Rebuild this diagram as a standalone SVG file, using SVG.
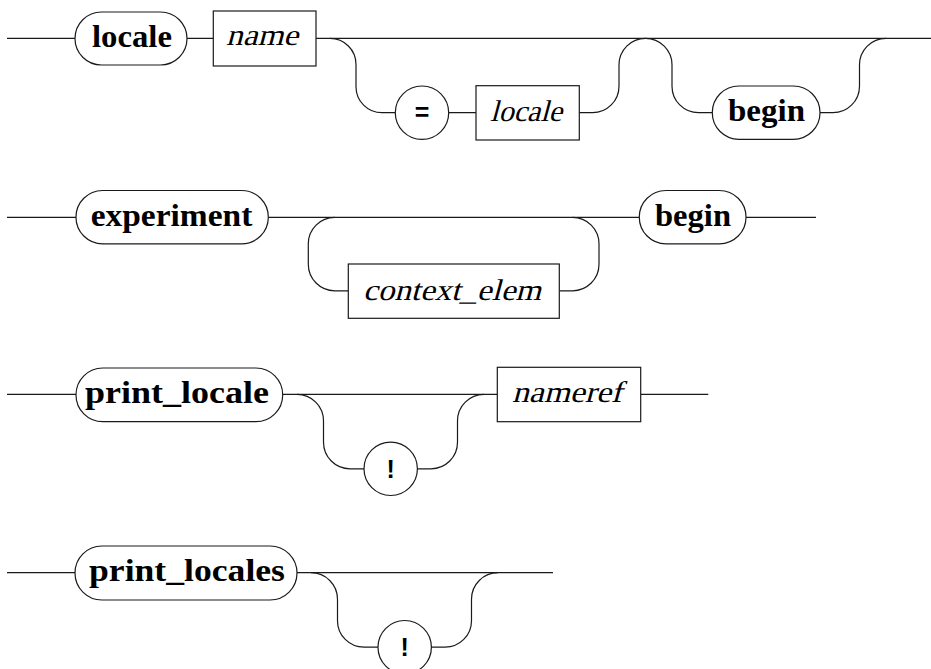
<svg xmlns="http://www.w3.org/2000/svg" width="931" height="669" viewBox="0 0 931 669">
<style>
.ln{fill:none;stroke:#1a1a1a;stroke-width:1.2}
.nd{fill:#fff;stroke:#1a1a1a;stroke-width:1.2}
.kw{font-family:"Liberation Serif",serif;font-weight:bold;font-size:31px;fill:#000;text-anchor:middle}
.nt{font-family:"Liberation Serif",serif;font-size:30px;fill:#000;text-anchor:middle}
.sy{font-family:"Liberation Sans",sans-serif;font-size:25px;font-weight:bold;fill:#000;text-anchor:middle}
</style>
<rect width="931" height="669" fill="#fff"/>
<g id="connectors" class="ln">
<path d="M7 38.4H75 M187 38.4H213 M316 38.4H931"/>
<path d="M330 38.4A26 26 0 0 1 356 64.4V86.7A26 26 0 0 0 382 112.7H395.3 M448.7 112.7H476 M579 112.7H592.5A26.5 26.5 0 0 0 619 86.2V64.9A26.5 26.5 0 0 1 645.5 38.4A26.5 26.5 0 0 1 672 64.9V86.2A26.5 26.5 0 0 0 698.5 112.7H712.3 M820 112.7H833A26.5 26.5 0 0 0 859.5 86.2V64.9A26.5 26.5 0 0 1 886 38.4"/>
<path d="M7 217.3H76 M268.3 217.3H639.3 M746 217.3H816"/>
<path d="M334.8 217.3A26.5 26.5 0 0 0 308.3 243.8V264.3A26.5 26.5 0 0 0 334.8 290.8H348.3 M559.3 290.8H572.5A26.5 26.5 0 0 0 599 264.3V243.8A26.5 26.5 0 0 0 572.5 217.3"/>
<path d="M7 394.3H76 M282.7 394.3H497.3 M640.7 394.3H708.3"/>
<path d="M297 394.3A26.5 26.5 0 0 1 323.5 420.8V442.3A26.5 26.5 0 0 0 350 468.8H364 M417.4 468.8H431A26.5 26.5 0 0 0 457.5 442.3V420.8A26.5 26.5 0 0 1 484 394.3"/>
<path d="M7 572.7H75 M297 572.7H553"/>
<path d="M311 572.7A26.5 26.5 0 0 1 337.5 599.2V620.7A26.5 26.5 0 0 0 364 647.2H378 M431.4 647.2H445A26.5 26.5 0 0 0 471.5 620.7V599.2A26.5 26.5 0 0 1 498 572.7"/>
</g>
<g id="n-locale-kw"><rect class="nd" x="75" y="12" width="112" height="53" rx="26.5"/><text class="kw" x="132" y="46.7" textLength="80" lengthAdjust="spacingAndGlyphs">locale</text></g>
<g id="n-name"><rect class="nd" x="213.3" y="11" width="102.7" height="55"/><text class="nt" transform="translate(262 45) skewX(-15)" textLength="72" lengthAdjust="spacingAndGlyphs">name</text></g>
<g id="n-eq"><circle class="nd" cx="422" cy="112.7" r="26.7"/><text class="sy" x="422" y="121">=</text></g>
<g id="n-locale"><rect class="nd" x="476" y="85.7" width="103.3" height="54.3"/><text class="nt" transform="translate(526 120.5) skewX(-15)" textLength="72" lengthAdjust="spacingAndGlyphs">locale</text></g>
<g id="n-begin1"><rect class="nd" x="712.3" y="86" width="107.7" height="53.3" rx="26.6"/><text class="kw" x="766.5" y="120.7" textLength="77" lengthAdjust="spacingAndGlyphs">begin</text></g>
<g id="n-experiment"><rect class="nd" x="76" y="190.5" width="192.3" height="53.3" rx="26.6"/><text class="kw" x="171.5" y="225.5" textLength="161.6" lengthAdjust="spacingAndGlyphs">experiment</text></g>
<g id="n-context_elem"><rect class="nd" x="348.3" y="264" width="211" height="54.3"/><text class="nt" transform="translate(452 299.5) skewX(-15)" textLength="178" lengthAdjust="spacingAndGlyphs">context_elem</text></g>
<g id="n-begin2"><rect class="nd" x="639.3" y="190.5" width="106.7" height="53.3" rx="26.6"/><text class="kw" x="693" y="225.5" textLength="76" lengthAdjust="spacingAndGlyphs">begin</text></g>
<g id="n-print_locale"><rect class="nd" x="76" y="368" width="206.7" height="53.7" rx="26.8"/><text class="kw" x="177" y="403" textLength="184" lengthAdjust="spacingAndGlyphs">print_locale</text></g>
<g id="n-bang1"><circle class="nd" cx="390.7" cy="468.8" r="26.7"/><text class="sy" x="390.7" y="477.5">!</text></g>
<g id="n-nameref"><rect class="nd" x="497.3" y="367.3" width="143.4" height="54.4"/><text class="nt" transform="translate(567 402) skewX(-15)" textLength="110" lengthAdjust="spacingAndGlyphs">nameref</text></g>
<g id="n-print_locales"><rect class="nd" x="75" y="546" width="222" height="54" rx="27"/><text class="kw" x="187" y="581" textLength="196" lengthAdjust="spacingAndGlyphs">print_locales</text></g>
<g id="n-bang2"><circle class="nd" cx="404.7" cy="647.2" r="26.7"/><text class="sy" x="404.7" y="655.9">!</text></g>
</svg>
